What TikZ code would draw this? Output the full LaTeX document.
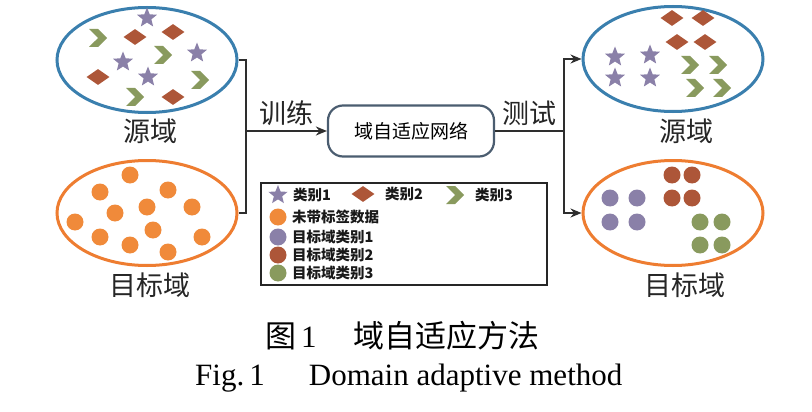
\documentclass[tikz,border=0pt]{standalone}
\usepackage{fontspec}
\setmainfont{Liberation Serif}
\newfontfamily\cjk{Noto Sans CJK SC}
\usepackage{xcolor}
\usepackage{tikz}
\usetikzlibrary{positioning,shapes.geometric,shapes.symbols,arrows.meta}

\definecolor{srcblue}{HTML}{3A7FAE}
\definecolor{tgtorange}{HTML}{EE7D31}
\definecolor{clsone}{HTML}{8A80A8}
\definecolor{clstwo}{HTML}{AD5638}
\definecolor{clsthree}{HTML}{899A5E}
\definecolor{unlab}{HTML}{F08A3A}
\definecolor{netline}{HTML}{4B5D70}
\definecolor{wirecol}{HTML}{2E2E2E}

\begin{document}
\begin{tikzpicture}[x=1pt, y=-1pt, >=Stealth,
    domainbox/.style={ellipse, line width=3pt, minimum width=180pt, minimum height=105pt, inner sep=0pt},
    dlabel/.style={font=\cjk\fontsize{27}{30}\selectfont, text=black!85, inner sep=0pt},
    network/.style={rectangle, draw=netline, line width=2.2pt, rounded corners=15pt, minimum width=166pt, minimum height=51pt, font=\cjk\fontsize{19}{22}\selectfont},
    starmark/.style={star, star points=5, star point ratio=2.3, fill=clsone, minimum size=21pt, inner sep=0pt},
    diamark/.style={diamond, fill=clstwo, minimum width=23pt, minimum height=16pt, inner sep=0pt},
    chevmark/.style={signal, signal from=west, signal to=east, fill=clsthree, minimum width=15pt, minimum height=18pt, inner sep=0pt},
    disc/.style={circle, fill=#1, minimum size=17pt, inner sep=0pt},
    legtext/.style={font=\cjk\bfseries\fontsize{14.5}{16}\selectfont, text=black!90, anchor=west, inner sep=0pt},
    wire/.style={draw=wirecol, line width=1.8pt},
    arrow/.style={wire, -{Stealth[length=11pt, width=9pt]}}]

    \useasboundingbox[fill=white] (0,0) rectangle (812,412);

    % domains
    \node[domainbox, draw=srcblue] at (147,60) (srcL) {};
    \node[domainbox, draw=tgtorange] at (147,213) (tgtL) {};
    \node[domainbox, draw=srcblue] at (673,59) (srcR) {};
    \node[domainbox, draw=tgtorange] at (673,213) (tgtR) {};
    \node[dlabel] at (150,131) (srcLlbl) {源域};
    \node[dlabel] at (150,285) (tgtLlbl) {目标域};
    \node[dlabel] at (686,131) (srcRlbl) {源域};
    \node[dlabel] at (685,285) (tgtRlbl) {目标域};

    % source samples, mixed
    \foreach \p [count=\i] in {(147,18),(123,62),(197,53),(148,77)}
        \node[starmark] (srcStar\i) at \p {};
    \foreach \p [count=\i] in {(135,37),(173,32),(98,77),(173,97)}
        \node[diamark] (srcDia\i) at \p {};
    \foreach \p [count=\i] in {(98,38),(163,55),(200,80),(135,97)}
        \node[chevmark] (srcChev\i) at \p {};

    % unlabeled target samples
    \foreach \p [count=\i] in {(130,175),(100,192),(168,190),(147,207),(115,213),(192,207),
                               (75,222),(153,230),(100,237),(130,245),(202,237),(168,252)}
        \node[disc=unlab] (tgtDot\i) at \p {};

    % source samples after the network
    \foreach \p [count=\i] in {(615,57),(650,55),(615,78),(650,78)}
        \node[starmark] (outStar\i) at \p {};
    \foreach \p [count=\i] in {(672,18),(703,18),(677,42),(705,42)}
        \node[diamark] (outDia\i) at \p {};
    \foreach \p [count=\i] in {(690,65),(718,65),(695,88),(722,88)}
        \node[chevmark] (outChev\i) at \p {};

    % target samples after the network
    \foreach \p [count=\i] in {(610,198),(637,198),(610,222),(637,222)}
        \node[disc=clsone] (outOne\i) at \p {};
    \foreach \p [count=\i] in {(672,175),(692,175),(672,198),(692,198)}
        \node[disc=clstwo] (outTwo\i) at \p {};
    \foreach \p [count=\i] in {(700,222),(722,222),(700,245),(722,245)}
        \node[disc=clsthree] (outThree\i) at \p {};

    % network and connectors
    \node[network] at (411,131) (net) {域自适应网络};
    \coordinate (joinL) at (246,131);
    \coordinate (joinR) at (564,131);

    \draw[wire] (srcL.east) -| (joinL) |- (tgtL.east);
    \draw[arrow] (joinL) -- node[dlabel, above=4pt] (train) {训练} (net.west);
    \draw[wire] (net.east) -- node[dlabel, above=4pt] (test) {测试} (joinR);
    \draw[arrow] (joinR) |- (srcR.west);
    \draw[arrow] (joinR) |- (tgtR.west);

    % legend
    \node[draw=black!85, line width=2.5pt, minimum width=286pt, minimum height=102pt, inner sep=0pt] at (404,234) (legend) {};
    \node[starmark, minimum size=20pt] at (278,195) (lgStar) {};
    \node[legtext] at (293,195) (lgOne) {类别1};
    \node[diamark] at (363,194) (lgDia) {};
    \node[legtext] at (385,194) (lgTwo) {类别2};
    \node[chevmark] at (455,195) (lgChev) {};
    \node[legtext] at (475,195) (lgThree) {类别3};
    \node[disc=unlab] at (278,217) (lgUnlab) {};
    \node[legtext] at (292,217) (lgUnlabTxt) {未带标签数据};
    \node[disc=clsone] at (278,237) (lgTgtOne) {};
    \node[legtext] at (292,237) (lgTgtOneTxt) {目标域类别1};
    \node[disc=clstwo] at (278,255) (lgTgtTwo) {};
    \node[legtext] at (292,255) (lgTgtTwoTxt) {目标域类别2};
    \node[disc=clsthree] at (278,273) (lgTgtThree) {};
    \node[legtext] at (292,273) (lgTgtThreeTxt) {目标域类别3};

    % caption
    \node[anchor=west, inner sep=0pt, font=\fontsize{31}{34}\selectfont] at (265,336) (capCn)
        {{\cjk\fontsize{31}{34}\selectfont 图}\hspace{5pt}1\hspace{37pt}{\cjk\fontsize{31}{34}\selectfont 域自适应方法}};
    \node[anchor=west, inner sep=0pt, font=\fontsize{31}{34}\selectfont] at (195,378) (capEn)
        {Fig.\,1\hspace{44pt}Domain adaptive method};
\end{tikzpicture}
\end{document}
